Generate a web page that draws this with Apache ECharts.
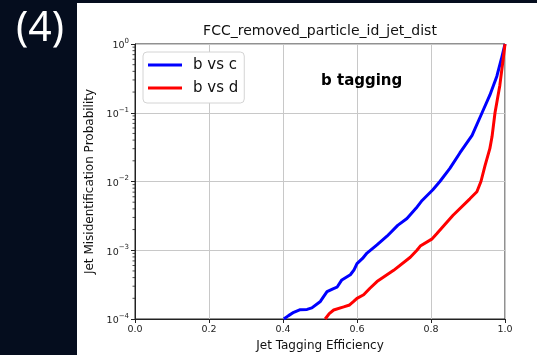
<!DOCTYPE html>
<html>
<head>
<meta charset="utf-8">
<script src="https://cdn.jsdelivr.net/npm/echarts@6/dist/echarts.min.js"></script>
<style>
  html, body { margin: 0; padding: 0; background: #050d1e; }
  #chart { width: 537px; height: 355px; }
</style>
</head>
<body>
<div id="chart"></div>
<script>
// ---- data ----
const chartTitle = 'FCC_removed_particle_id_jet_dist';
const xAxisName = 'Jet Tagging Efficiency';
const yAxisName = 'Jet Misidentification Probability';
const panelLabel = '(4)';
const annotation = 'b tagging';
const seriesNames = ['b vs c', 'b vs d'];

const bvcEff = [0.402, 0.415, 0.429, 0.445, 0.465, 0.478, 0.501, 0.512, 0.519, 0.535, 0.546, 0.559, 0.582, 0.592, 0.600, 0.615, 0.627, 0.654, 0.681, 0.710, 0.735, 0.760, 0.776, 0.805, 0.824, 0.851, 0.878, 0.911, 0.938, 0.959, 0.978, 0.990, 1.000];
const bvcMis = [1.0e-4, 1.12e-4, 1.25e-4, 1.36e-4, 1.38e-4, 1.45e-4, 1.8e-4, 2.2e-4, 2.5e-4, 2.75e-4, 2.9e-4, 3.7e-4, 4.4e-4, 5.2e-4, 6.4e-4, 7.6e-4, 9.1e-4, 1.2e-3, 1.6e-3, 2.3e-3, 2.9e-3, 4.1e-3, 5.3e-3, 7.6e-3, 1.0e-2, 1.55e-2, 2.6e-2, 4.7e-2, 1.0e-1, 1.8e-1, 3.4e-1, 6.0e-1, 1.0];

const bvdEff = [0.514, 0.525, 0.537, 0.564, 0.580, 0.591, 0.600, 0.618, 0.635, 0.654, 0.699, 0.744, 0.762, 0.771, 0.802, 0.816, 0.859, 0.905, 0.924, 0.935, 0.946, 0.959, 0.965, 0.973, 0.986, 0.995, 1.000];
const bvdMis = [1.0e-4, 1.2e-4, 1.35e-4, 1.5e-4, 1.6e-4, 1.8e-4, 2.0e-4, 2.25e-4, 2.8e-4, 3.5e-4, 5.1e-4, 7.9e-4, 1.0e-3, 1.15e-3, 1.45e-3, 1.75e-3, 3.2e-3, 5.6e-3, 7.1e-3, 1.0e-2, 1.7e-2, 3.0e-2, 4.5e-2, 1.0e-1, 2.5e-1, 6.0e-1, 1.0];

const xTicks = [0.0, 0.2, 0.4, 0.6, 0.8, 1.0];
const yMajorTicks = [1e-4, 1e-3, 1e-2, 1e-1, 1];
const yMinorTicks = [2e-4,3e-4,4e-4,5e-4,6e-4,7e-4,8e-4,9e-4,
                     2e-3,3e-3,4e-3,5e-3,6e-3,7e-3,8e-3,9e-3,
                     2e-2,3e-2,4e-2,5e-2,6e-2,7e-2,8e-2,9e-2,
                     2e-1,3e-1,4e-1,5e-1,6e-1,7e-1,8e-1,9e-1];

// ---- chart ----
const FONT = 'DejaVu Sans';
const chart = echarts.init(document.getElementById('chart'), null, { renderer: 'canvas' });

const zip = (a, b) => a.map((v, i) => [v, b[i]]);

const option = {
  backgroundColor: '#050d1e',
  animation: false,
  graphic: [
    { type: 'rect', z: -100, silent: true, shape: { x: 77, y: 3, width: 460, height: 352 }, style: { fill: '#ffffff' } },
    { type: 'text', left: 16, top: 9, z: 10, style: { text: panelLabel, fill: '#ffffff', font: '41px "Noto Sans"' } },
    { type: 'text', left: 321, top: 74, z: 10, style: { text: annotation, fill: '#000000', font: 'bold 15px "DejaVu Sans"' } }
  ],
  title: {
    text: chartTitle,
    left: 320, top: 24, textAlign: 'center',
    padding: 0,
    textStyle: { fontFamily: FONT, fontSize: 14, fontWeight: 'normal', color: '#111' }
  },
  legend: {
    data: seriesNames,
    orient: 'vertical',
    left: 143, top: 52,
    padding: [3, 6, 5, 5],
    itemGap: 3,
    itemWidth: 34, itemHeight: 3,
    icon: 'rect',
    backgroundColor: '#ffffff',
    borderColor: '#d4d4d4', borderWidth: 1, borderRadius: 4,
    textStyle: { fontFamily: FONT, fontSize: 15, color: '#111', lineHeight: 20, padding: [0, 0, 0, 6] }
  },
  grid: {
    left: 135, right: 32, top: 44, bottom: 36,
    containLabel: false, outerBoundsMode: 'none',
    show: true, borderColor: '#222', borderWidth: 1, backgroundColor: 'transparent'
  },
  xAxis: {
    type: 'value', min: 0, max: 1, interval: 0.2,
    name: xAxisName, nameLocation: 'middle', nameGap: 19,
    nameTextStyle: { fontFamily: FONT, fontSize: 12, color: '#111' },
    axisLine: { show: true, lineStyle: { color: '#222', width: 1 } },
    axisTick: { show: true, length: 4, lineStyle: { color: '#222' } },
    axisLabel: { fontFamily: FONT, fontSize: 9.5, color: '#222', margin: 6,
      formatter: v => xTicks.find(t => Math.abs(t - v) < 1e-9).toFixed(1) },
    splitLine: { show: true, lineStyle: { color: '#c8c8c8', width: 1 } }
  },
  yAxis: {
    type: 'log', logBase: 10, min: 1e-4, max: 1,
    name: yAxisName, nameLocation: 'middle', nameGap: 37,
    nameTextStyle: { fontFamily: FONT, fontSize: 12, color: '#111' },
    axisLine: { show: true, lineStyle: { color: '#222', width: 1 } },
    axisTick: { show: true, length: 4, lineStyle: { color: '#222' } },
    axisLabel: {
      margin: 6,
      formatter: v => {
        const t = yMajorTicks.find(m => Math.abs(Math.log10(m) - Math.log10(v)) < 1e-6);
        const e = Math.round(Math.log10(t));
        return '{b|10}{s|' + (e < 0 ? '\u2212' + (-e) : e) + '}';
      },
      rich: {
        b: { fontFamily: FONT, fontSize: 9.5, color: '#222', lineHeight: 12, verticalAlign: 'middle', padding: [4, 0, 0, 0] },
        s: { fontFamily: FONT, fontSize: 7, color: '#222', lineHeight: 10, verticalAlign: 'middle', padding: [0, 0, 6, 0] }
      }
    },
    splitLine: { show: true, lineStyle: { color: '#c8c8c8', width: 1 } }
  },
  series: [
    {
      name: seriesNames[0], type: 'line', data: zip(bvcEff, bvcMis),
      showSymbol: false, smooth: false,
      lineStyle: { color: '#0000ff', width: 3 }, itemStyle: { color: '#0000ff' }, z: 3
    },
    {
      name: seriesNames[1], type: 'line', data: zip(bvdEff, bvdMis),
      showSymbol: false, smooth: false,
      lineStyle: { color: '#ff0000', width: 3 }, itemStyle: { color: '#ff0000' }, z: 3
    },
    {
      name: 'minor', type: 'custom', clip: false, silent: true, z: 4,
      data: yMinorTicks.map(v => [0, v]),
      renderItem: (params, api) => {
        const p = api.coord([0, api.value(1)]);
        return { type: 'line', shape: { x1: p[0] - 2.5, y1: p[1], x2: p[0], y2: p[1] },
                 style: { stroke: '#222', lineWidth: 0.8 } };
      }
    }
  ]
};
chart.setOption(option);
</script>
</body>
</html>
